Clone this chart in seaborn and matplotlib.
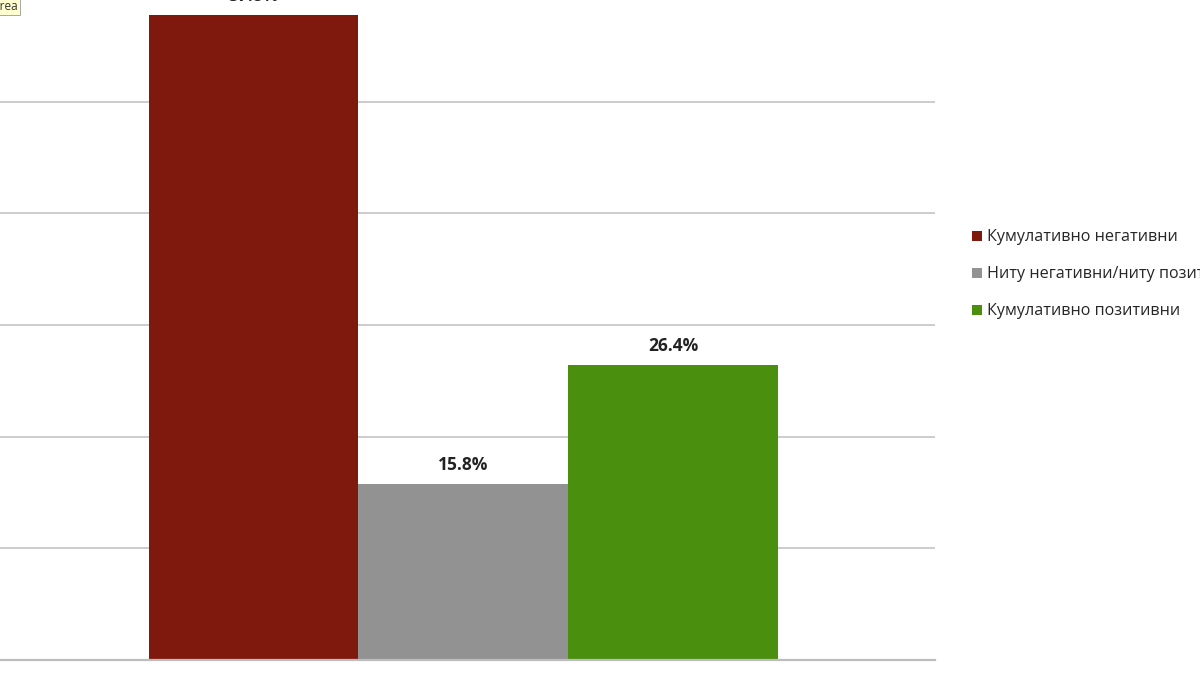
import pandas as pd
import matplotlib.pyplot as plt
import seaborn as sns
from matplotlib.patches import Patch

sns.set_theme(style="white")
plt.rcParams['font.family'] = ['Open Sans', 'DejaVu Sans']

categories = ["Кумулативно негативни", "Ниту негативни/ниту позитивни", "Кумулативно позитивни"]
values = [57.8, 15.8, 26.4]
labels = ["57.8%", "15.8%", "26.4%"]
colors = ["#7f190e", "#929292", "#4b8f0e"]

df = pd.DataFrame({"group": categories, "share": values})

fig = plt.figure(figsize=(12, 6.75), dpi=100)
ax = fig.add_axes([0, 15 / 675, 935 / 1200, 660 / 675])

sns.barplot(data=df, x="group", y="share", hue="group", palette=colors,
            order=categories, hue_order=categories, width=1.0, dodge=False,
            legend=False, saturation=1, linewidth=0, edgecolor="none", ax=ax)

ax.set_xlim(-1.21, 3.25)
ax.set_ylim(0, 59.1)
ax.set_yticks([10, 20, 30, 40, 50])
ax.yaxis.grid(True, color="#c8c8c8", linewidth=1.3)
ax.set_axisbelow(True)
ax.set_xticks([])
ax.set_yticklabels([])
ax.tick_params(left=False, bottom=False)
ax.set_xlabel("")
ax.set_ylabel("")
for side in ["left", "right", "top"]:
    ax.spines[side].set_visible(False)
ax.spines["bottom"].set_color("#bdbdbd")
ax.spines["bottom"].set_linewidth(1.6)

for i, (v, lab) in enumerate(zip(values, labels)):
    ax.annotate(lab, (i, v), xytext=(0, 7), textcoords="offset points",
                ha="center", va="bottom", fontsize=12.5, fontweight="bold",
                color="#222222", annotation_clip=False)

handles = [Patch(facecolor=c, edgecolor="none") for c in colors]
fig.legend(handles, categories, loc="upper left", bbox_to_anchor=(966 / 1200, 1 - 223 / 675),
           frameon=False, fontsize=11.6, handlelength=0.6, handleheight=0.6,
           handletextpad=0.3, labelspacing=1.3, borderaxespad=0)

fig.text(18 / 1200, 1 - 6 / 675, "Plot Area", ha="right", va="center", fontsize=8.5,
         color="#333333",
         bbox=dict(boxstyle="square,pad=0.2", facecolor="#ffffd0", edgecolor="#999999", linewidth=0.6))

fig.savefig("out.png", dpi=100)
